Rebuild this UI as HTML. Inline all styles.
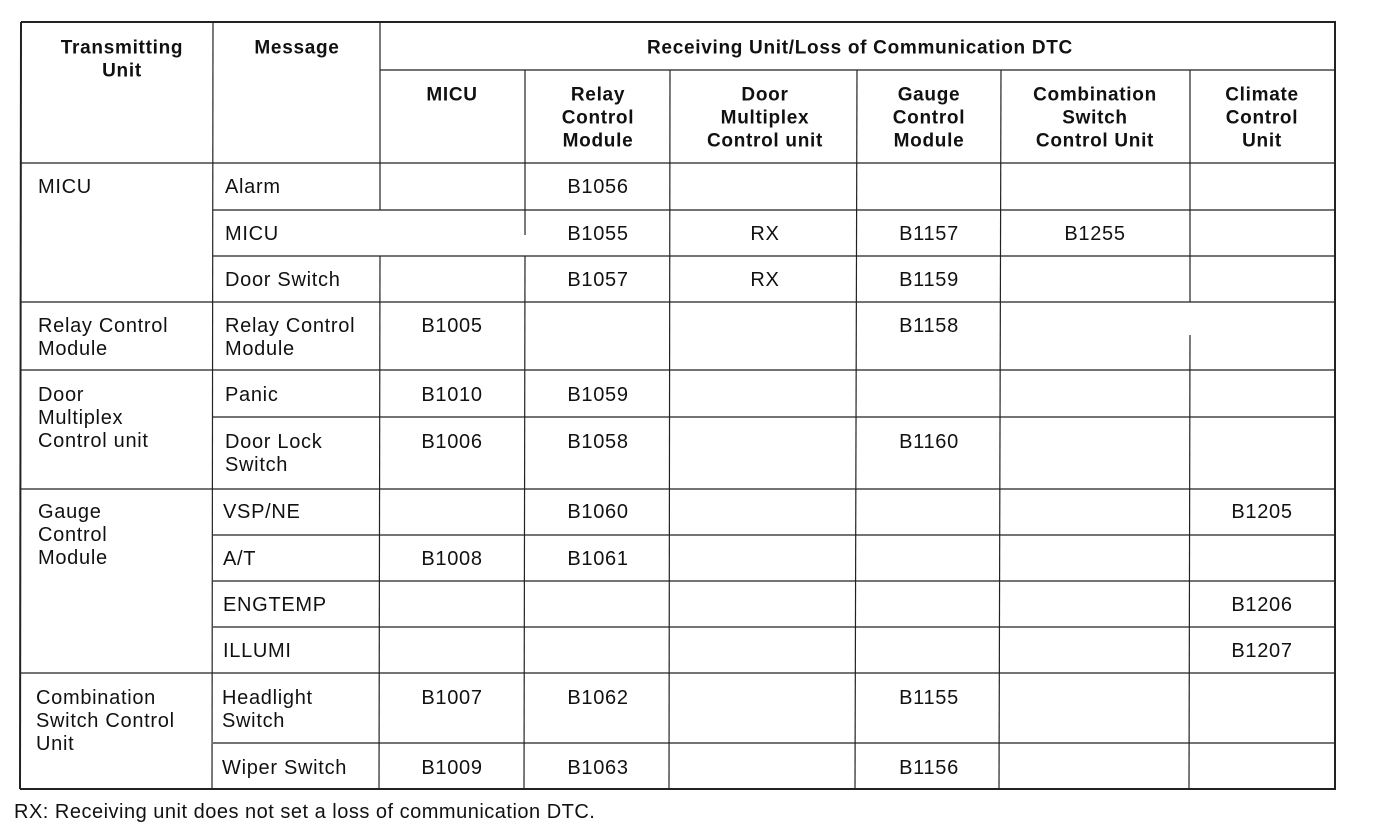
<!DOCTYPE html>
<html><head><meta charset="utf-8"><style>
html,body{margin:0;padding:0;background:#fff;}
svg{display:block;}
text{font-family:"Liberation Sans",Arial,sans-serif;font-size:20px;letter-spacing:0.7px;fill:#111;dominant-baseline:central;}
.b{font-weight:bold;font-size:19px;letter-spacing:0.7px;text-anchor:middle;}
.c{text-anchor:middle;}
line{stroke:#222;stroke-width:1.2;}
.o{stroke-width:2;}
</style></head><body>
<svg width="1376" height="840" viewBox="0 0 1376 840">
<line class="o" x1="21" y1="22" x2="1336" y2="22"/>
<line class="o" x1="20" y1="789" x2="1336" y2="789"/>
<line class="o" x1="21" y1="22" x2="20" y2="789"/>
<line class="o" x1="1335" y1="22" x2="1335" y2="789"/>
<line x1="213" y1="22" x2="212" y2="789"/>
<line x1="380" y1="22" x2="380" y2="210"/>
<line x1="380" y1="256" x2="379" y2="789"/>
<line x1="525" y1="70" x2="525" y2="235"/>
<line x1="525" y1="256" x2="524" y2="789"/>
<line x1="670" y1="70" x2="669" y2="789"/>
<line x1="857" y1="70" x2="855" y2="789"/>
<line x1="1001" y1="70" x2="999" y2="789"/>
<line x1="1190" y1="70" x2="1190" y2="302"/>
<line x1="1190" y1="335" x2="1189" y2="789"/>
<line x1="380" y1="70" x2="1336" y2="70"/>
<line x1="21" y1="163" x2="1336" y2="163"/>
<line x1="213" y1="210" x2="1336" y2="210"/>
<line x1="213" y1="256" x2="1336" y2="256"/>
<line x1="21" y1="302" x2="1336" y2="302"/>
<line x1="21" y1="370" x2="1336" y2="370"/>
<line x1="213" y1="417" x2="1336" y2="417"/>
<line x1="21" y1="489" x2="1336" y2="489"/>
<line x1="213" y1="535" x2="1336" y2="535"/>
<line x1="213" y1="581" x2="1336" y2="581"/>
<line x1="213" y1="627" x2="1336" y2="627"/>
<line x1="21" y1="673" x2="1336" y2="673"/>
<line x1="213" y1="743" x2="1336" y2="743"/>
<text class="b" x="122" y="48">Transmitting</text>
<text class="b" x="122" y="71">Unit</text>
<text class="b" x="297" y="48">Message</text>
<text class="b" x="860" y="48">Receiving Unit/Loss of Communication DTC</text>
<text class="b" x="452" y="95">MICU</text>
<text class="b" x="598" y="95">Relay</text><text class="b" x="598" y="118">Control</text><text class="b" x="598" y="141">Module</text>
<text class="b" x="765" y="95">Door</text><text class="b" x="765" y="118">Multiplex</text><text class="b" x="765" y="141">Control unit</text>
<text class="b" x="929" y="95">Gauge</text><text class="b" x="929" y="118">Control</text><text class="b" x="929" y="141">Module</text>
<text class="b" x="1095" y="95">Combination</text><text class="b" x="1095" y="118">Switch</text><text class="b" x="1095" y="141">Control Unit</text>
<text class="b" x="1262" y="95">Climate</text><text class="b" x="1262" y="118">Control</text><text class="b" x="1262" y="141">Unit</text>
<text x="38" y="187">MICU</text>
<text x="38" y="326">Relay Control</text><text x="38" y="349">Module</text>
<text x="38" y="395">Door</text><text x="38" y="418">Multiplex</text><text x="38" y="441">Control unit</text>
<text x="38" y="512">Gauge</text><text x="38" y="535">Control</text><text x="38" y="558">Module</text>
<text x="36" y="698">Combination</text><text x="36" y="721">Switch Control</text><text x="36" y="744">Unit</text>
<text x="225" y="187">Alarm</text>
<text x="225" y="234">MICU</text>
<text x="225" y="280">Door Switch</text>
<text x="225" y="326">Relay Control</text><text x="225" y="349">Module</text>
<text x="225" y="395">Panic</text>
<text x="225" y="442">Door Lock</text><text x="225" y="465">Switch</text>
<text x="223" y="512">VSP/NE</text>
<text x="223" y="559">A/T</text>
<text x="223" y="605">ENGTEMP</text>
<text x="223" y="651">ILLUMI</text>
<text x="222" y="698">Headlight</text><text x="222" y="721">Switch</text>
<text x="222" y="768">Wiper Switch</text>
<text class="c" x="598" y="187">B1056</text>
<text class="c" x="598" y="234">B1055</text><text class="c" x="765" y="234">RX</text><text class="c" x="929" y="234">B1157</text><text class="c" x="1095" y="234">B1255</text>
<text class="c" x="598" y="280">B1057</text><text class="c" x="765" y="280">RX</text><text class="c" x="929" y="280">B1159</text>
<text class="c" x="452" y="326">B1005</text><text class="c" x="929" y="326">B1158</text>
<text class="c" x="452" y="395">B1010</text><text class="c" x="598" y="395">B1059</text>
<text class="c" x="452" y="442">B1006</text><text class="c" x="598" y="442">B1058</text><text class="c" x="929" y="442">B1160</text>
<text class="c" x="598" y="512">B1060</text><text class="c" x="1262" y="512">B1205</text>
<text class="c" x="452" y="559">B1008</text><text class="c" x="598" y="559">B1061</text>
<text class="c" x="1262" y="605">B1206</text>
<text class="c" x="1262" y="651">B1207</text>
<text class="c" x="452" y="698">B1007</text><text class="c" x="598" y="698">B1062</text><text class="c" x="929" y="698">B1155</text>
<text class="c" x="452" y="768">B1009</text><text class="c" x="598" y="768">B1063</text><text class="c" x="929" y="768">B1156</text>
<text x="14" y="812" style="font-size:20px;letter-spacing:0.5px">RX: Receiving unit does not set a loss of communication DTC.</text>
</svg>
</body></html>
